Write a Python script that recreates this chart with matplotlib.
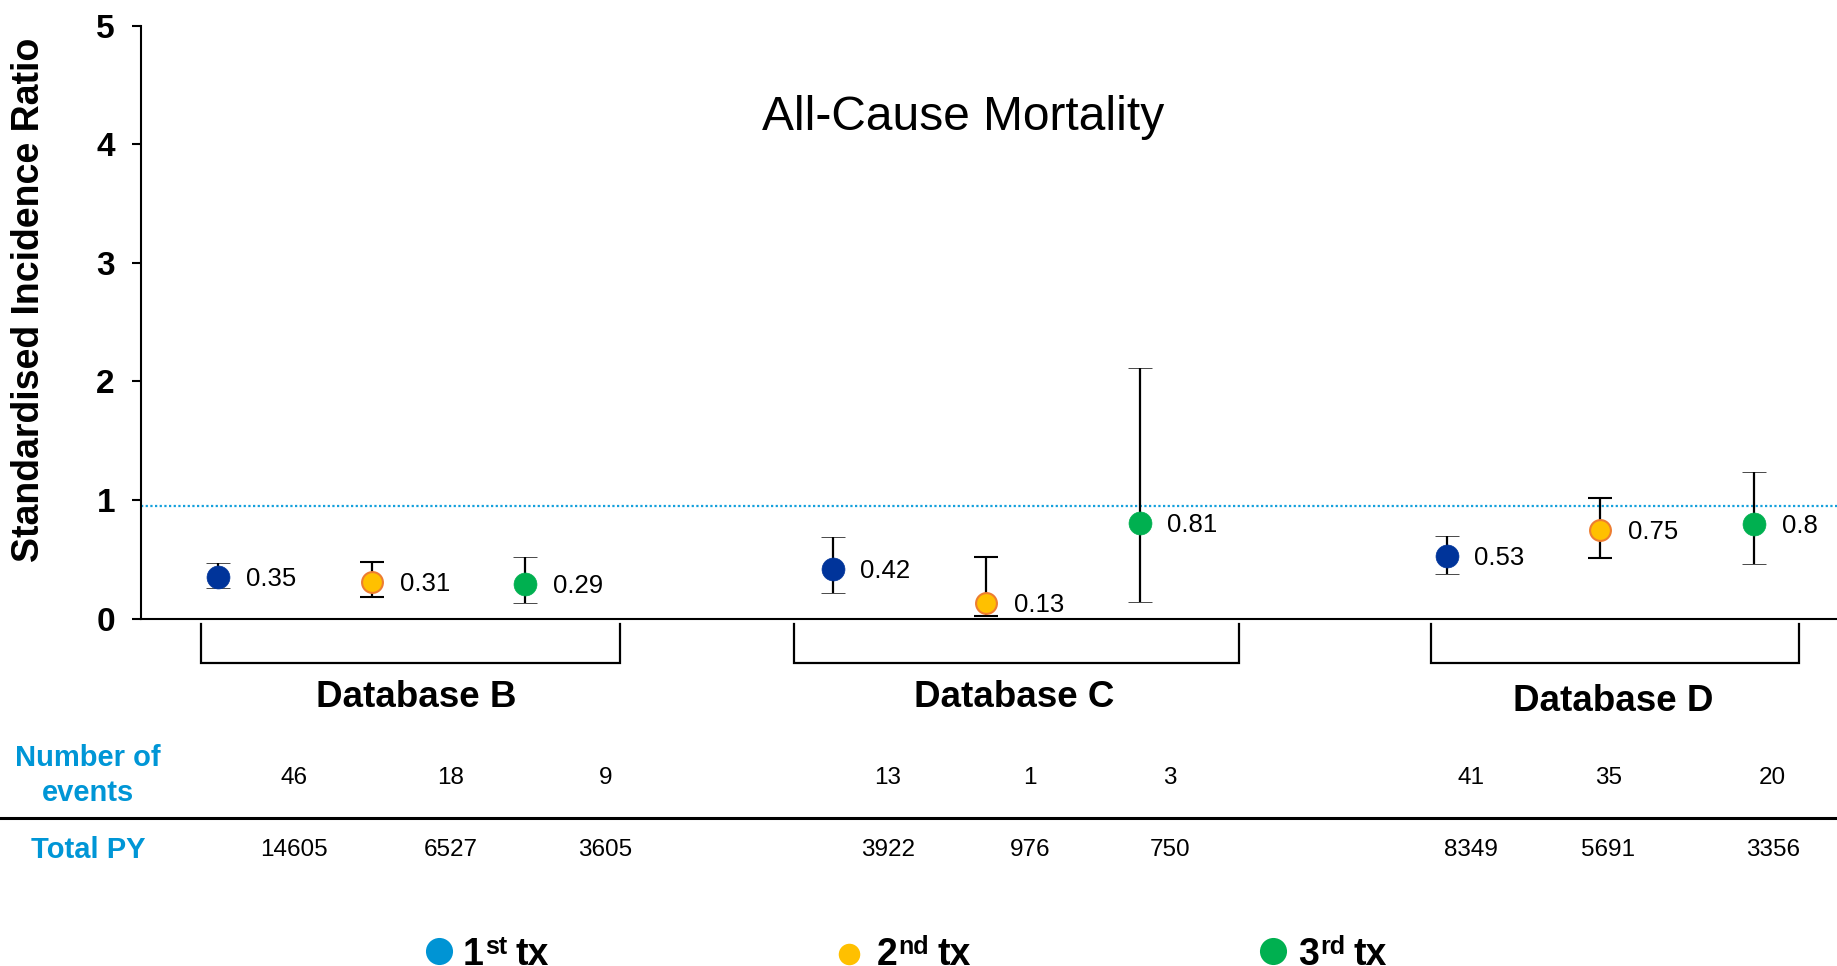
import matplotlib
matplotlib.use("Agg")
import matplotlib.pyplot as plt
from matplotlib.lines import Line2D

plt.rcParams['font.family'] = ['Liberation Sans', 'DejaVu Sans']

# ---------------- data ----------------
databases = ['Database B', 'Database C', 'Database D']
treatments = ['1st tx', '2nd tx', '3rd tx']
sir = [0.35, 0.31, 0.29, 0.42, 0.13, 0.81, 0.53, 0.75, 0.80]
ci_low = [0.26, 0.18, 0.13, 0.22, 0.02, 0.14, 0.38, 0.51, 0.46]
ci_high = [0.47, 0.48, 0.52, 0.69, 0.52, 2.11, 0.70, 1.02, 1.24]
events = [46, 18, 9, 13, 1, 3, 41, 35, 20]
total_py = [14605, 6527, 3605, 3922, 976, 750, 8349, 5691, 3356]
reference_line = 0.95
y_ticks = [0, 1, 2, 3, 4, 5]

# ---------------- styles ----------------
fill_colors = ['#00349A', '#FFC000', '#00B050']
edge_colors = ['#00349A', '#ED7D31', '#00B050']
legend_colors = ['#0094D4', '#FFC000', '#00B050']
blue_text = '#0096D6'

W, H = 1837, 966
fig = plt.figure(figsize=(W / 100, H / 100), dpi=100)


def fx(px):
    return px / W


def fy(py):
    return 1 - py / H


left_px, right_px, top_px, bottom_px = 140.6, 1837, 25.8, 618.6
ax = fig.add_axes([fx(left_px), fy(bottom_px), fx(right_px) - fx(left_px), fy(top_px) - fy(bottom_px)])
x0_px, step_px = 218.3, 153.55
ax.set_xlim((left_px - x0_px) / step_px, (right_px - x0_px) / step_px)
ax.set_ylim(0, 5)

for s in ['top', 'right']:
    ax.spines[s].set_visible(False)
for s in ['left', 'bottom']:
    ax.spines[s].set_linewidth(1.5)
ax.set_xticks([])
ax.set_yticks(y_ticks)
ax.set_yticklabels([str(t) for t in y_ticks], fontsize=24, fontweight='bold')
ax.tick_params(axis='y', direction='out', length=6.5, width=1.5, pad=12)

# reference line
ax.axhline(reference_line, color='#14A0DC', lw=1.6, ls=(0, (1, 1.1)), zorder=1)

# points
positions = []
for g in range(len(databases)):
    for t in range(len(treatments)):
        positions.append(g * 4 + t)

for i, (x, v, lo, hi) in enumerate(zip(positions, sir, ci_low, ci_high)):
    t = i % 3
    ax.errorbar([x], [v], yerr=[[v - lo], [hi - v]], fmt='o', ms=16.5 if t != 1 else 15,
                mfc=fill_colors[t], mec=edge_colors[t], mew=1.5 if t == 1 else 0.5,
                ecolor='black', elinewidth=1.6, capsize=8.5, capthick=1.8, zorder=3)
    ax.annotate('{:g}'.format(v), (x, v), xytext=(20, -1.5), textcoords='offset points',
                ha='left', va='center', fontsize=18.5, color='black')

# brackets
bracket_x = [(-0.113, 2.616), (3.749, 6.649), (7.898, 10.294)]
b_top = (bottom_px - 624.5) / 118.6
b_bot = (bottom_px - 662.7) / 118.6
for (a, b) in bracket_x:
    ax.plot([a, a, b, b], [b_top, b_bot, b_bot, b_top], color='black', lw=1.6, clip_on=False,
            solid_joinstyle='miter')

db_label_px = [(416.7, 697.5), (1014.6, 697.5), (1613, 701.5)]
for name, (px, py) in zip(databases, db_label_px):
    fig.text(fx(px), fy(py), name, ha='center', va='center', fontsize=26.5, fontweight='bold')

# title
fig.text(fx(963), fy(118), 'All-Cause Mortality', ha='center', va='center', fontsize=34.5)

# y label
fig.text(fx(29), fy(300), 'Standardised Incidence Ratio', rotation=90, ha='center', va='center',
         fontsize=27, fontweight='bold')

# table
fig.text(fx(88), fy(758), 'Number of', ha='center', va='center', fontsize=21,
         fontweight='bold', color=blue_text)
fig.text(fx(88), fy(793), 'events', ha='center', va='center', fontsize=21,
         fontweight='bold', color=blue_text)
fig.text(fx(88), fy(850), 'Total PY', ha='center', va='center', fontsize=21,
         fontweight='bold', color=blue_text)
table_cols_px = [294, 450.6, 605.6, 888, 1030.3, 1170.2, 1470.8, 1608.3, 1772.7]
for px, e, p in zip(table_cols_px, events, total_py):
    fig.text(fx(px), fy(777.5), str(e), ha='center', va='center', fontsize=17.5)
    fig.text(fx(px), fy(850.5), str(p), ha='center', va='center', fontsize=17.5)
fig.add_artist(Line2D([0, 1], [fy(817.5), fy(817.5)], color='black', lw=2.2, transform=fig.transFigure))

# legend (manual)
renderer = fig.canvas.get_renderer()
leg_marker_px = [(439.4, 951), (848.5, 954), (1273, 951)]
leg_marker_size = [19.5, 15.5, 19.5]
leg_text_px = [463, 876.5, 1298]
leg_parts = [('1', 'st'), ('2', 'nd'), ('3', 'rd')]
base_y = fy(965)
for k in range(3):
    mx, my = leg_marker_px[k]
    fig.add_artist(Line2D([fx(mx)], [fy(my)], marker='o', ms=leg_marker_size[k], mfc=legend_colors[k],
                          mec=legend_colors[k], mew=0, ls='none', transform=fig.transFigure))
    x = fx(leg_text_px[k])
    t1 = fig.text(x, base_y, leg_parts[k][0], ha='left', va='baseline', fontsize=27, fontweight='bold')
    bb = t1.get_window_extent(renderer)
    x2 = fx(bb.x1 + 1)
    t2 = fig.text(x2, base_y + 10.5 / H, leg_parts[k][1], ha='left', va='baseline', fontsize=18,
                  fontweight='bold')
    bb2 = t2.get_window_extent(renderer)
    fig.text(fx(bb2.x1 + 9), base_y, 'tx', ha='left', va='baseline', fontsize=27, fontweight='bold')

fig.savefig('out.png', dpi=100)
